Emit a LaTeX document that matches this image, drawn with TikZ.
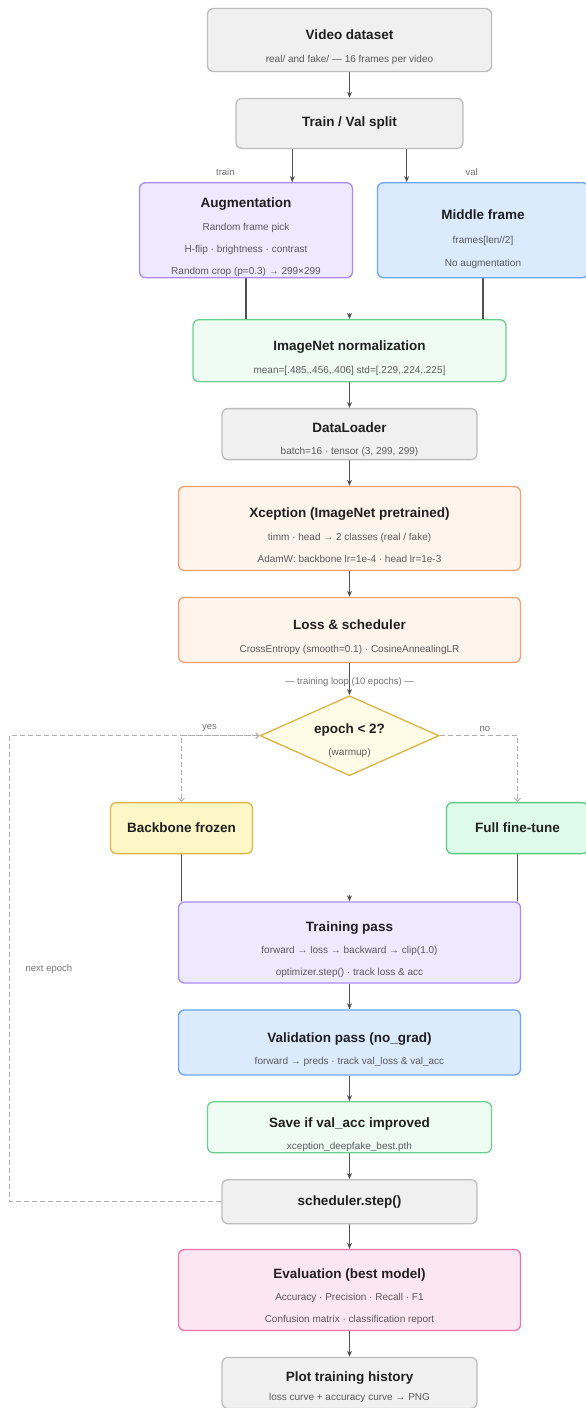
\documentclass[tikz,border=0pt]{standalone}
\usepackage{fontspec}
\setmainfont{Liberation Sans}
\usetikzlibrary{shapes.geometric,arrows.meta,positioning,backgrounds}
\definecolor{ink}{HTML}{1F1F1F}
\definecolor{note}{HTML}{5A5A5A}
\definecolor{wire}{HTML}{505050}
\definecolor{loopgray}{HTML}{ADADAD}
\definecolor{GrayFill}{HTML}{F0F0F0}
\definecolor{GrayLine}{HTML}{BDBDBD}
\definecolor{VioletFill}{HTML}{EEE9FE}
\definecolor{VioletLine}{HTML}{A98BF5}
\definecolor{BlueFill}{HTML}{DCEAFE}
\definecolor{BlueLine}{HTML}{6AA5F5}
\definecolor{MintFill}{HTML}{EFFCF4}
\definecolor{MintLine}{HTML}{6BCF8F}
\definecolor{LeafFill}{HTML}{DDFBE8}
\definecolor{LeafLine}{HTML}{5CCB85}
\definecolor{PeachFill}{HTML}{FFF4EC}
\definecolor{PeachLine}{HTML}{F4A06E}
\definecolor{GoldFill}{HTML}{FEFBE6}
\definecolor{GoldLine}{HTML}{DDB347}
\definecolor{ButterFill}{HTML}{FDF6C6}
\definecolor{ButterLine}{HTML}{E2B54A}
\definecolor{RoseFill}{HTML}{FCE6F2}
\definecolor{RoseLine}{HTML}{EE74AC}
\newcommand\stagetitle[2][24pt]{{\rule{0pt}{#1}\fontsize{13.5}{16}\selectfont\bfseries\color{ink}#2}}
\tikzset{%
stage/.style={draw, rounded corners=6pt, line width=1.3pt, align=center, inner sep=0pt, font=\fontsize{10}{22}\selectfont\color{note}},
heading/.style={font=\fontsize{13.5}{16}\selectfont\bfseries\color{ink}},
graybox/.style={stage, draw=GrayLine, fill=GrayFill},
violetbox/.style={stage, draw=VioletLine, fill=VioletFill},
bluebox/.style={stage, draw=BlueLine, fill=BlueFill},
mintbox/.style={stage, draw=MintLine, fill=MintFill},
leafbox/.style={stage, draw=LeafLine, fill=LeafFill},
peachbox/.style={stage, draw=PeachLine, fill=PeachFill},
butterbox/.style={stage, draw=ButterLine, fill=ButterFill},
rosebox/.style={stage, draw=RoseLine, fill=RoseFill},
decision/.style={stage, diamond, aspect=2.2, sharp corners, draw=GoldLine, fill=GoldFill},
flow/.style={draw=wire, line width=1.1pt, -{Stealth[length=6pt,width=5pt]}},
link/.style={draw=wire, line width=1.1pt},
hop/.style={draw=loopgray, line width=1pt, dash pattern=on 5pt off 3pt, -{Straight Barb[length=3pt,width=6pt]}},
tag/.style={font=\fontsize{9.5}{11}\selectfont, text=note!85}
}
\begin{document}
\begin{tikzpicture}[node distance=25.6pt, x=1pt, y=1pt]
	\useasboundingbox (0,0) rectangle (586,-1408);
	\clip (0,0) rectangle (586,-1408);
	\node[graybox, minimum width=284pt, minimum height=63pt] (data) at (349.5,-40) {\stagetitle{Video dataset}\\[1pt] real/ and fake/ — 16 frames per video};
	\node[graybox, heading, minimum width=227pt, minimum height=50pt] (split) [below=of data] {Train / Val split};
	\node[violetbox, minimum width=213pt, minimum height=95pt] (aug) [below=33pt of split, xshift=-103.5pt] {\stagetitle{Augmentation}\\[1pt] Random frame pick\\ H-flip · brightness · contrast\\ Random crop (p=0.3) → 299×299};
	\node[bluebox, minimum width=211pt, minimum height=95pt] (mid) [below=33pt of split, xshift=133.5pt] {\stagetitle[28pt]{Middle frame}\\[2pt] frames[len//2]\\[1pt] No augmentation};
	\node[mintbox, minimum width=313pt, minimum height=62pt] (norm) [below=170pt of split] {\stagetitle{ImageNet normalization}\\[1pt] mean=[.485,.456,.406] std=[.229,.224,.225]};
	\node[graybox, minimum width=255pt, minimum height=51pt] (loader) [below=of norm] {\stagetitle[20pt]{DataLoader}\\[0pt] batch=16 · tensor (3, 299, 299)};
	\node[peachbox, minimum width=342pt, minimum height=84pt] (xcep) [below=of loader] {\stagetitle{Xception (ImageNet pretrained)}\\[1pt] timm · head → 2 classes (real / fake)\\ AdamW: backbone lr=1e-4 · head lr=1e-3};
	\node[peachbox, minimum width=342pt, minimum height=65pt] (loss) [below=of xcep] {\stagetitle{Loss \& scheduler}\\[1pt] CrossEntropy (smooth=0.1) · CosineAnnealingLR};
	\node[decision, minimum width=179pt, minimum height=80pt] (dec) [below=32pt of loss] {\stagetitle[20pt]{epoch < 2?}\\[0pt] (warmup)};
	\node[butterbox, heading, minimum width=142pt, minimum height=51pt] (frozen) [below=of dec, xshift=-168pt] {Backbone frozen};
	\node[leafbox, heading, minimum width=142pt, minimum height=51pt] (full) [below=of dec, xshift=168pt] {Full fine-tune};
	\node[violetbox, minimum width=342pt, minimum height=81pt] (train) [below=125pt of dec] {\stagetitle{Training pass}\\[0pt] forward → loss → backward → clip(1.0)\\ optimizer.step() · track loss \& acc};
	\node[bluebox, minimum width=342pt, minimum height=65pt] (val) [below=of train] {\stagetitle{Validation pass (no\_grad)}\\[0pt] forward → preds · track val\_loss \& val\_acc};
	\node[mintbox, minimum width=284pt, minimum height=51pt] (save) [below=of val] {\stagetitle{Save if val\_acc improved}\\[0pt] xception\_deepfake\_best.pth};
	\node[graybox, heading, minimum width=255pt, minimum height=44pt] (sched) [below=of save] {scheduler.step()};
	\node[rosebox, minimum width=342pt, minimum height=81pt] (eval) [below=24.5pt of sched] {\stagetitle{Evaluation (best model)}\\[0pt] Accuracy · Precision · Recall · F1\\ Confusion matrix · classification report};
	\node[graybox, minimum width=255pt, minimum height=51pt] (plot) [below=of eval] {\stagetitle[18pt]{Plot training history}\\[-3pt] loss curve + accuracy curve → PNG};

	\coordinate (trainout) at ([xshift=57pt]split.south west);
	\coordinate (valout) at ([xshift=-57pt]split.south east);
	\coordinate (rail) at ([xshift=-100pt]frozen.west);

	\begin{scope}[on background layer]
		\path[flow] (data) edge (split);
		\draw[flow] (trainout) -- node[tag, pos=0.7, xshift=-67pt] {train} (trainout |- aug.north);
		\draw[flow] (valout) -- node[tag, pos=0.7, xshift=65pt] {val} (valout |- mid.north);
		\draw[link] (aug) -- (aug |- norm.north);
		\draw[link] (mid) -- (mid |- norm.north);
		\draw[flow] ([yshift=6pt]norm.north) -- (norm.north);
		\path[flow] (norm) edge (loader);
		\path[flow] (loader) edge (xcep);
		\path[flow] (xcep) edge (loss);
		\draw[flow] (loss) -- node[tag, pos=0.59] {— training loop (10 epochs) —} (dec);
		\draw[hop] (dec.west) -| node[tag, pos=0.32, above] {yes} (frozen.north);
		\draw[hop] (dec.east) -| node[tag, pos=0.29, above] {no} (full.north);
		\draw[link] (frozen) -- (frozen |- train.north);
		\draw[link] (full) -- (full |- train.north);
		\draw[flow] ([yshift=6pt]train.north) -- (train.north);
		\path[flow] (train) edge (val);
		\path[flow] (val) edge (save);
		\path[flow] (save) edge (sched);
		\path[flow] (sched) edge (eval);
		\path[flow] (eval) edge (plot);
		\draw[hop] (sched.west) -| node[tag, pos=0.75, right=12pt] {next epoch} (rail |- dec.west) -- (dec.west);
	\end{scope}
\end{tikzpicture}
\end{document}
